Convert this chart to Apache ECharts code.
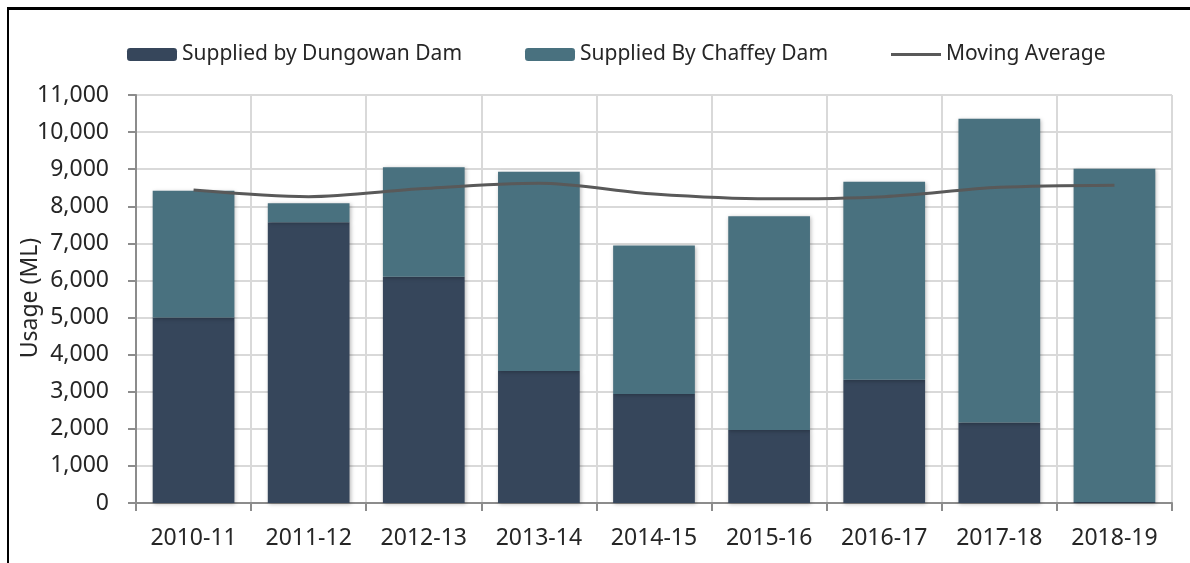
<!DOCTYPE html>
<html>
<head>
<meta charset="utf-8">
<script src="https://cdn.jsdelivr.net/npm/echarts@6/dist/echarts.min.js"></script>
<style>
  html, body { margin: 0; padding: 0; background: #fff; }
  #wrap { position: relative; width: 1190px; height: 563px; overflow: hidden; }
  #frame {
    position: absolute; left: 7px; top: 7px; width: 1200px; height: 600px;
    border-left: 2px solid #000; border-top: 3px solid #000; box-sizing: border-box;
  }
  #chart { position: absolute; left: 0; top: 0; width: 1190px; height: 563px; }
</style>
</head>
<body>
<div id="wrap">
  <div id="chart"></div>
  <div id="frame"></div>
</div>
<script>
// ======================
// DATA
// ======================
const years = ['2010-11', '2011-12', '2012-13', '2013-14', '2014-15', '2015-16', '2016-17', '2017-18', '2018-19'];
const dungowan = [5000, 7570, 6100, 3560, 2940, 1970, 3320, 2170, 30];
const chaffey = [3420, 510, 2950, 5370, 4000, 5760, 5340, 8190, 8980];
const movingAvg = [8440, 8260, 8480, 8620, 8330, 8200, 8260, 8510, 8570];

// ======================
// STYLE
// ======================
const FONT = 'Noto Sans, sans-serif';
const TEXT = '#262626';
const GRID = '#d9d9d9';
const AXIS = '#8c8c8c';
const barShadow = {
    shadowBlur: 4,
    shadowColor: 'rgba(0,0,0,0.28)',
    shadowOffsetX: 1,
    shadowOffsetY: 1,
};

const chart = echarts.init(document.getElementById('chart'), null, { renderer: 'canvas' });

const legendText = { color: TEXT, fontSize: 21, fontFamily: FONT };

chart.setOption({
    animation: false,
    legend: [
        { data: ['Supplied by Dungowan Dam'], left: 122, top: 39, itemWidth: 50, itemHeight: 13, itemGap: 7, textStyle: legendText, selectedMode: false },
        { data: ['Supplied By Chaffey Dam'], left: 520, top: 39, itemWidth: 50, itemHeight: 13, textStyle: legendText, selectedMode: false },
        {
            data: [{ name: 'Moving Average', icon: 'rect', itemStyle: { color: '#595959' } }],
            left: 886, top: 39, itemWidth: 50, itemHeight: 3, textStyle: legendText, selectedMode: false,
        },
    ],
    // y-axis title as plain text so it sits where the reference puts it
    graphic: [{
        type: 'text',
        x: 30,
        y: 298,
        rotation: Math.PI / 2,
        style: {
            text: 'Usage (ML)',
            fill: TEXT,
            font: '23px Noto Sans, sans-serif',
            align: 'center',
            verticalAlign: 'middle',
        },
    }],
    grid: { left: 136, right: 18, top: 95, bottom: 60, outerBoundsMode: 'none' },
    xAxis: {
        type: 'category',
        data: years,
        axisLine: { lineStyle: { color: AXIS, width: 2 } },
        axisTick: { show: true, length: 8, interval: 0, lineStyle: { color: AXIS, width: 2 } },
        axisLabel: { color: TEXT, fontSize: 23, fontFamily: FONT, margin: 24, interval: 0 },
        splitLine: { show: true, interval: 0, lineStyle: { color: GRID, width: 2 } },
    },
    yAxis: {
        type: 'value',
        min: 0,
        max: 11000,
        interval: 1000,
        axisLine: { show: true, lineStyle: { color: AXIS, width: 2 } },
        axisTick: { show: true, length: 8, lineStyle: { color: AXIS, width: 2 } },
        axisLabel: {
            color: TEXT, fontSize: 23, fontFamily: FONT, margin: 27,
            formatter: v => v.toLocaleString('en-US'),
        },
        splitLine: { show: true, lineStyle: { color: GRID, width: 2 } },
    },
    series: [
        {
            name: 'Supplied by Dungowan Dam',
            type: 'bar',
            stack: 'usage',
            data: dungowan,
            barCategoryGap: '29%',
            itemStyle: Object.assign({ color: '#36465b' }, barShadow),
        },
        {
            name: 'Supplied By Chaffey Dam',
            type: 'bar',
            stack: 'usage',
            data: chaffey,
            itemStyle: Object.assign({ color: '#49717f' }, barShadow),
        },
        {
            name: 'Moving Average',
            type: 'line',
            data: movingAvg,
            smooth: 0.3,
            symbol: 'none',
            lineStyle: { color: '#595959', width: 3 },
            itemStyle: { color: '#595959' },
            z: 5,
        },
    ],
});
</script>
</body>
</html>
